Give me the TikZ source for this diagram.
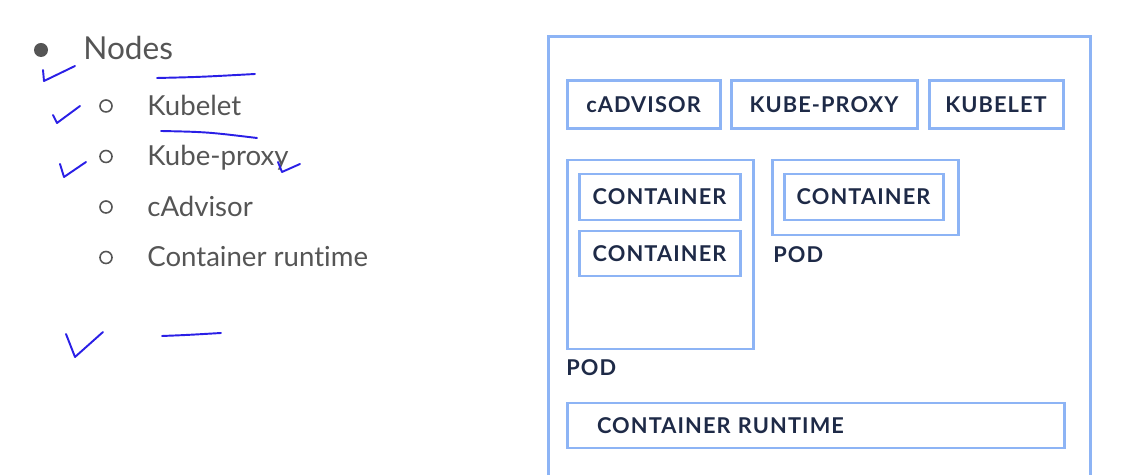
\documentclass[tikz,border=0pt]{standalone}
\usepackage{fontspec}
\setmainfont{Lato}[Ligatures=NoCommon]
\usepackage{xcolor}
\usetikzlibrary{positioning}
\definecolor{boxblue}{HTML}{8DB4F5}
\definecolor{navy}{HTML}{1E2A47}
\definecolor{textgrey}{HTML}{555555}
\definecolor{penblue}{HTML}{2A1FE6}
\newfontfamily\labelfont[LetterSpace=5]{Lato}
\newcommand\pxl{0.02cm}

\begin{document}
\begin{tikzpicture}[x=0.02cm, y=-0.02cm,
  kline/.style={draw=boxblue, line width=1.7pt},
  kbox/.style={kline, inner sep=0pt, text=navy,
    font=\labelfont\bfseries\fontsize{12.4}{14}\selectfont},
  podlabel/.style={anchor=base west, inner sep=0pt, text=navy,
    font=\labelfont\bfseries\fontsize{12.4}{14}\selectfont},
  item/.style={anchor=base west, inner sep=0pt, text=textgrey,
    font=\fontsize{15.7}{18}\selectfont},
  pen/.style={draw=penblue, line width=1.1pt, line cap=round, line join=round}]

\useasboundingbox (0,0) rectangle (1135,475);

% notes on the left
\node [circle, fill=textgrey, minimum size=14*\pxl, inner sep=0pt] (dot-0) at (41,50) {};
\node [item, font=\fontsize{18}{20}\selectfont] (item-0) at (83,60) {Nodes};

\foreach \t [count=\i] in {Kubelet, Kube-proxy, cAdvisor, Container runtime}
{
  \node [circle, draw=textgrey, line width=0.9pt, minimum size=12*\pxl, inner sep=0pt]
    (dot-\i) at (106,55.5+\i*50.5) {};
  \node [item] (item-\i) at (147,65+\i*50.5) {\t};
}

% pen marks
\draw [pen] (43,70) -- (44,81) -- (75,66);
\draw [pen] (157,78) .. controls (200,77) .. (255,74);
\draw [pen] (53,115) -- (57,123) -- (80,106);
\draw [pen] (161,131) .. controls (207,132) .. (257,138);
\draw [pen] (60,164) -- (64,177) -- (86,162);
\draw [pen] (278,162) -- (282,172) -- (300,164);
\draw [pen] (66,334) -- (75,357) -- (103,332);
\draw [pen] (162,336) .. controls (187,335) .. (221,333);

% node box
\draw [kline] (548,478) |- (1090,37) -- (1090,478);

\node [kbox, minimum width=153*\pxl, minimum height=48*\pxl] (cadvisor) at (643.5,105) {cADVISOR};
\node [kbox, minimum width=186*\pxl, minimum height=48*\pxl] (kubeproxy) at (824,105) {KUBE-PROXY};
\node [kbox, minimum width=134*\pxl, minimum height=48*\pxl] (kubelet) at (996,105) {KUBELET};

% pods
\node [kline, minimum width=186*\pxl, minimum height=189*\pxl] (pod-1) at (660,254.5) {};
\node [kline, minimum width=186*\pxl, minimum height=75*\pxl] (pod-2) at (865,197.5) {};

\node [kbox, minimum width=161*\pxl, minimum height=46*\pxl] (container-1) at (659.5,197) {CONTAINER};
\node [kbox, minimum width=161*\pxl, minimum height=45*\pxl] (container-2) at (659.5,253.5) {CONTAINER};
\node [kbox, minimum width=159*\pxl, minimum height=46*\pxl] (container-3) at (863.5,197) {CONTAINER};

\node [podlabel] (podlabel-1) at (566,376) {POD};
\node [podlabel] (podlabel-2) at (773,263) {POD};

\node [kbox, minimum height=45*\pxl, inner xsep=30*\pxl, text width=437*\pxl, align=left]
  (runtime) at (815.5,425.5) {CONTAINER RUNTIME};

\end{tikzpicture}
\end{document}
